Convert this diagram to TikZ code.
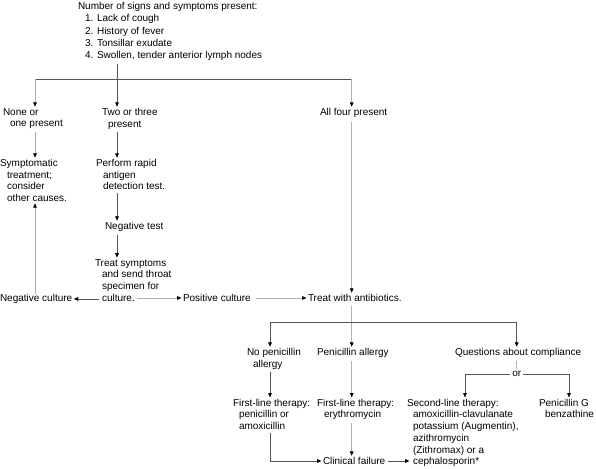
\documentclass[tikz,border=0pt]{standalone}
\usepackage{fontspec}
\setmainfont{Liberation Sans}
\usetikzlibrary{arrows.meta}
\definecolor{dkline}{HTML}{555555}
\definecolor{ltline}{HTML}{B0B0B0}
\begin{document}
\begin{tikzpicture}[x=1pt,y=-1pt,
  every node/.style={font=\fontsize{10}{11.7}\selectfont},
  txt/.style={anchor=north west, inner sep=0pt, outer sep=0pt, align=left},
  dk/.style={draw=dkline, line width=0.8pt},
  lt/.style={draw=ltline, line width=0.8pt},
  arr/.style={-{Triangle[length=4.5pt,width=3.6pt,color=black]}, shorten >=1.5pt},
]
\useasboundingbox (0,0) rectangle (596,468);

% text nodes
\node[txt, font=\fontsize{10}{12.25}\selectfont] (title) at (78,2.3) {Number of signs and symptoms present:\\\hspace*{7pt}1. Lack of cough\\\hspace*{7pt}2. History of fever\\\hspace*{7pt}3. Tonsillar exudate\\\hspace*{7pt}4. Swollen, tender anterior lymph nodes};
\node[txt] (none) at (3,108.3) {None or\\\hspace*{7pt}one present};
\node[txt] (two) at (102,108.3) {Two or three\\\hspace*{6pt}present};
\node[txt] (all) at (320,108.3) {All four present};
\node[txt] (symp) at (0,159.3) {Symptomatic\\\hspace*{7pt}treatment;\\\hspace*{7pt}consider\\\hspace*{7pt}other causes.};
\node[txt] (perf) at (96,159.3) {Perform rapid\\\hspace*{7pt}antigen\\\hspace*{7pt}detection test.};
\node[txt] (negt) at (105,222.3) {Negative test};
\node[txt] (treat) at (95,259.2) {Treat symptoms\\\hspace*{7pt}and send throat\\\hspace*{7pt}specimen for\\\hspace*{7pt}culture.};
\node[txt] (negc) at (0,294.3) {Negative culture};
\node[txt] (posc) at (183,294.3) {Positive culture};
\node[txt] (abx) at (308,294.3) {Treat with antibiotics.};
\node[txt] (nopen) at (247,348.3) {No penicillin\\\hspace*{6pt}allergy};
\node[txt] (penal) at (317,348.3) {Penicillin allergy};
\node[txt] (quest) at (455,348.3) {Questions about compliance};
\node[inner sep=2pt] (or) at (516.7,374.3) {or};
\node[txt] (first1) at (233,399) {First-line therapy:\\\hspace*{6pt}penicillin or\\\hspace*{6pt}amoxicillin};
\node[txt] (first2) at (317,399) {First-line therapy:\\\hspace*{7pt}erythromycin};
\node[txt] (second) at (407,399) {Second-line therapy:\\\hspace*{6pt}amoxicillin-clavulanate\\\hspace*{6pt}potassium (Augmentin),\\\hspace*{6pt}azithromycin\\\hspace*{6pt}(Zithromax) or a\\\hspace*{6pt}cephalosporin*};
\node[txt] (peng) at (539,399) {Penicillin G\\\hspace*{6pt}benzathine};
\node[txt] (clin) at (323,457.3) {Clinical failure};

% junctions
\coordinate (jT) at (117,79.5);
\coordinate (jL) at (35,79.5);
\coordinate (jR) at (351.7,79.5);
\coordinate (cL) at (99,0);
\coordinate (cR) at (137,0);
\coordinate (jM) at (351.7,322);
\coordinate (jA) at (270,322);
\coordinate (jC) at (516.7,322);
\coordinate (oL) at (465,374.3);
\coordinate (oR) at (569,374.3);
\coordinate (sx) at (411,0);

% top branching
\draw[dk] ([yshift=-3pt]title.south -| jT) -- (jT);
\draw[dk] (jL) -- (jR);
\draw[lt,arr] (jL) -- (none.north -| jL);
\draw[dk,arr] (jT) -- (two.north -| jT);
\draw[lt,arr] (jR) -- (all.north -| jR);

% left branch
\draw[lt,arr] ([yshift=-3pt]none.south -| jL) -- (symp.north -| jL);
\draw[lt,arr] (negc.north -| jL) -- (symp.south -| jL);

% middle branch
\draw[dk,arr] ([yshift=-3pt]two.south -| jT) -- (perf.north -| jT);
\draw[dk,arr] ([yshift=-3pt]perf.south -| jT) -- (negt.north -| jT);
\draw[dk,arr] ([yshift=-3pt]negt.south -| jT) -- (treat.north -| jT);
\draw[dk,arr] (negc.east -| cL) -- (negc.east);
\draw[lt,arr] (posc.west -| cR) -- (posc.west);
\draw[lt,arr] ([xshift=5pt]posc.east) -- (abx.west);

% right branch
\draw[lt,arr] ([yshift=-4pt]all.south -| jR) -- (abx.north -| jR);
\draw[lt,arr] ([yshift=-4pt]abx.south -| jM) -- (penal.north -| jM);
\draw[dk,arr] (jM) -- (jA) -- (nopen.north -| jA);
\draw[dk,arr] (jM) -- (jC) -- (quest.north -| jC);
\draw[lt] ([yshift=-3pt]quest.south -| jC) -- (or.north);
\draw[dk,arr] (or.west) -- (oL) -- (second.north -| oL);
\draw[dk,arr] (or.east) -- (oR) -- (peng.north -| oR);
\draw[dk,arr] ([yshift=-3pt]nopen.south -| jA) -- (first1.north -| jA);
\draw[lt,arr] ([yshift=-3pt]penal.south -| jM) -- (first2.north -| jM);
\draw[dk,arr] ([yshift=-3pt]first1.south -| jA) -- (clin.west -| jA) -- (clin.west);
\draw[lt,arr] ([yshift=-3pt]first2.south -| jM) -- (clin.north -| jM);
\draw[dk,arr] ([xshift=3pt]clin.east) -- (clin.east -| sx);
\end{tikzpicture}
\end{document}
